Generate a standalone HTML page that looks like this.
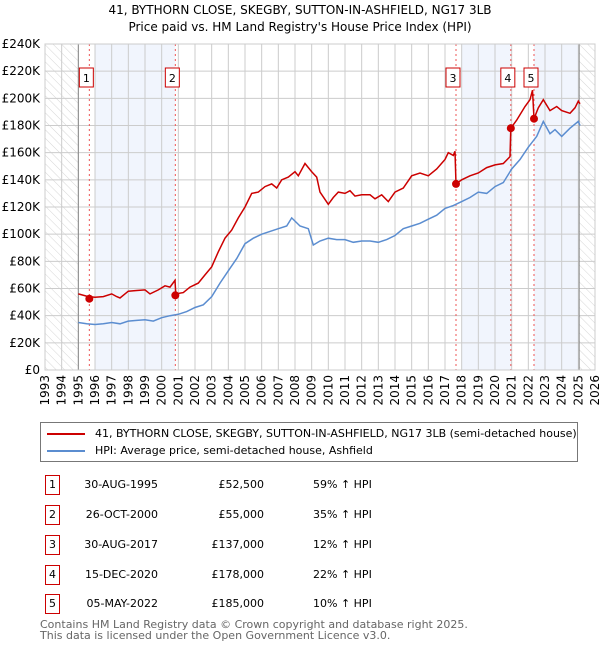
<!DOCTYPE html>
<html><head><meta charset="utf-8"><style>
body{margin:0;width:600px;height:650px;background:#fff;font-family:"DejaVu Sans","Liberation Sans",sans-serif;position:relative;overflow:hidden}
.t{position:absolute;font-size:11.5px;color:#000;white-space:nowrap}
.box{position:absolute;border:1.3px solid #c00;height:20px;font-size:11px;text-align:center;line-height:18px;box-sizing:border-box;width:15px}
</style></head><body>
<svg id="chart" width="600" height="415" style="position:absolute;left:0;top:0" font-family="DejaVu Sans, Liberation Sans, sans-serif">
<defs><pattern id="hatch" width="6" height="6" patternUnits="userSpaceOnUse" patternTransform="rotate(-45)"><line x1="0" y1="0" x2="0" y2="6" stroke="#ccc" stroke-width="0.8"/></pattern></defs>
<g id="g"></g>
</svg>
<div style="position:absolute;left:40px;top:422px;width:538px;height:40px;border:1px solid #777;box-sizing:border-box">
<div style="position:absolute;left:6px;top:4px;font-size:11px;white-space:nowrap"><span style="display:inline-block;width:38px;height:2px;background:#c00;vertical-align:middle;margin-right:10px"></span>41, BYTHORN CLOSE, SKEGBY, SUTTON-IN-ASHFIELD, NG17 3LB (semi-detached house)</div>
<div style="position:absolute;left:6px;top:21px;font-size:11px;white-space:nowrap"><span style="display:inline-block;width:38px;height:2px;background:#5b8dd0;vertical-align:middle;margin-right:10px"></span>HPI: Average price, semi-detached house, Ashfield</div>
</div>
<div id="tbl"></div>
<div class="t" style="left:40px;top:619px;font-size:11px;color:#666;line-height:11px">Contains HM Land Registry data © Crown copyright and database right 2025.<br>This data is licensed under the Open Government Licence v3.0.</div>
<script>
const hpiX=[1995.0,1995.5,1996,1996.5,1997,1997.5,1998,1998.5,1999,1999.5,2000,2000.5,2001,2001.5,2002,2002.5,2003,2003.5,2004,2004.5,2005,2005.5,2006,2006.5,2007,2007.5,2007.8,2008.3,2008.8,2009.1,2009.5,2010,2010.5,2011,2011.5,2012,2012.5,2013,2013.5,2014,2014.5,2015,2015.5,2016,2016.5,2017,2017.5,2018,2018.5,2019,2019.5,2020,2020.5,2021,2021.5,2022,2022.5,2022.9,2023.3,2023.6,2024,2024.5,2025,2025.1];
const hpiY=[35,34,33.5,34,35,34,36,36.5,37,36,38.5,40,41,43,46,48,54,64,73,82,93,97,100,102,104,106,112,106,104,92,95,97,96,96,94,95,95,94,96,99,104,106,108,111,114,119,121,124,127,131,130,135,138,148,155,164,172,183,174,177,172,178,183,180];
const redX=[1995.0,1995.6,1996,1996.5,1997,1997.3,1997.5,1998,1998.5,1999,1999.3,1999.8,2000.2,2000.5,2000.8,2000.85,2001.3,2001.7,2002.2,2002.6,2003,2003.4,2003.8,2004.2,2004.6,2005,2005.4,2005.8,2006.2,2006.6,2006.9,2007.2,2007.6,2008,2008.2,2008.6,2009,2009.3,2009.5,2010,2010.3,2010.6,2011,2011.3,2011.6,2012,2012.5,2012.8,2013.2,2013.6,2014,2014.5,2015,2015.5,2016,2016.5,2017,2017.2,2017.5,2017.6,2017.66,2018,2018.5,2019,2019.5,2020,2020.5,2020.9,2020.95,2021.3,2021.8,2022.1,2022.25,2022.34,2022.6,2022.9,2023.3,2023.7,2024,2024.5,2024.8,2025,2025.1];
const redY=[56,54,53.5,54,56,54,53,58,58.5,59,56,59,62,61,66,56,57,61,64,70,76,87,97,103,112,120,130,131,135,137,134,140,142,146,143,152,146,142,131,122,127,131,130,132,128,129,129,126,129,124,131,134,143,145,143,148,155,160,158,161,137,140,143,145,149,151,152,157,178,184,194,199,206,185,193,199,191,194,191,189,193,198,196];
const saleX=[1995.66,2000.82,2017.66,2020.95,2022.34];
const saleY=[52.5,55,137,178,185];
const saleLabel=["1","2","3","4","5"];
const yTicks=[0,20,40,60,80,100,120,140,160,180,200,220,240];
const xTicks=[];for(let y=1993;y<=2026;y++)xTicks.push(y);
const sx=v=>45+(v-1993)*550/33, sy=v=>370-v*326/240;
const NS="http://www.w3.org/2000/svg",g=document.getElementById('g');
function mk(t,a,p){const e=document.createElementNS(NS,t);for(const k in a)e.setAttribute(k,a[k]);(p||g).appendChild(e);return e;}
[[1996,saleX[1]],[2018,saleX[3]],[saleX[4],2025.05]].forEach(r=>{const e=mk('rect',{x:sx(r[0]),y:44,width:sx(r[1])-sx(r[0]),height:326,fill:'#eef3fc',opacity:0.8});

});
[[1993,1995],[2025.05,2026]].forEach(r=>{const e=mk('rect',{x:sx(r[0]),y:44,width:sx(r[1])-sx(r[0]),height:326,fill:'url(#hatch)'});

});
yTicks.forEach(v=>{mk('line',{x1:45,x2:595,y1:sy(v),y2:sy(v),stroke:'#ccc','stroke-width':1});
const t=mk('text',{x:40,y:sy(v)+4,'text-anchor':'end','font-size':12});t.textContent='£'+(v?v+'K':'0');

});
xTicks.forEach(v=>{mk('line',{x1:sx(v),x2:sx(v),y1:44,y2:370,stroke:'#ccc','stroke-width':1});
const t=mk('text',{transform:`translate(${sx(v)+4},375) rotate(-90)`,'text-anchor':'end','font-size':12});t.textContent=v;

});
mk('line',{x1:sx(1995),x2:sx(1995),y1:44,y2:370,stroke:'#888'});
mk('line',{x1:sx(2025.05),x2:sx(2025.05),y1:44,y2:370,stroke:'#888'});
saleX.forEach((x,i)=>{const l=mk('line',{x1:sx(x),x2:sx(x),y1:44,y2:370,stroke:'#e55','stroke-dasharray':'2,3','stroke-width':1});

});
const pts=(X,Y)=>X.map((x,i)=>sx(x).toFixed(1)+','+sy(Y[i]).toFixed(1)).join(' ');
const b=mk('polyline',{points:pts(hpiX,hpiY),fill:'none',stroke:'#5b8dd0','stroke-width':1.5});


const r=mk('polyline',{points:pts(redX,redY),fill:'none',stroke:'#c00','stroke-width':1.5});


saleX.forEach((x,i)=>{const c=mk('circle',{cx:sx(x),cy:sy(saleY[i]),r:4,fill:'#c00'});


const lx=sx(x)-3;
const bx=mk('rect',{x:lx-7,y:68,width:14,height:19,fill:'#fff',stroke:'#c00','stroke-width':1});


const t=mk('text',{x:lx,y:82,'text-anchor':'middle','font-size':11});t.textContent=saleLabel[i];});
mk('rect',{x:45,y:44,width:550,height:326,fill:'none',stroke:'#ccc'});
const tt=mk('text',{x:300,y:14,'text-anchor':'middle','font-size':12});tt.textContent="41, BYTHORN CLOSE, SKEGBY, SUTTON-IN-ASHFIELD, NG17 3LB";


const st=mk('text',{x:300,y:31,'text-anchor':'middle','font-size':12});st.textContent="Price paid vs. HM Land Registry's House Price Index (HPI)";


const dates=["30-AUG-1995","26-OCT-2000","30-AUG-2017","15-DEC-2020","05-MAY-2022"];
const prices=["£52,500","£55,000","£137,000","£178,000","£185,000"];
const pct=["59%","35%","12%","22%","10%"];
const rowY=[475,505,535,565,594];
const tb=document.getElementById('tbl');
rowY.forEach((y,i)=>{
const d=document.createElement('div');d.className='box';d.style.left='45px';d.style.top=y+'px';d.textContent=saleLabel[i];

tb.appendChild(d);
const a=document.createElement('div');a.className='t';a.style.cssText=`right:${600-158}px;top:${y+3}px;font-size:11px`;a.textContent=dates[i];

tb.appendChild(a);
const p=document.createElement('div');p.className='t';p.style.cssText=`right:${600-264}px;top:${y+3}px;font-size:11px`;p.textContent=prices[i];

tb.appendChild(p);
const h=document.createElement('div');h.className='t';h.style.cssText=`left:313px;top:${y+3}px;font-size:11px`;h.textContent=pct[i]+' ↑ HPI';

tb.appendChild(h);});
</script>
</body></html>
